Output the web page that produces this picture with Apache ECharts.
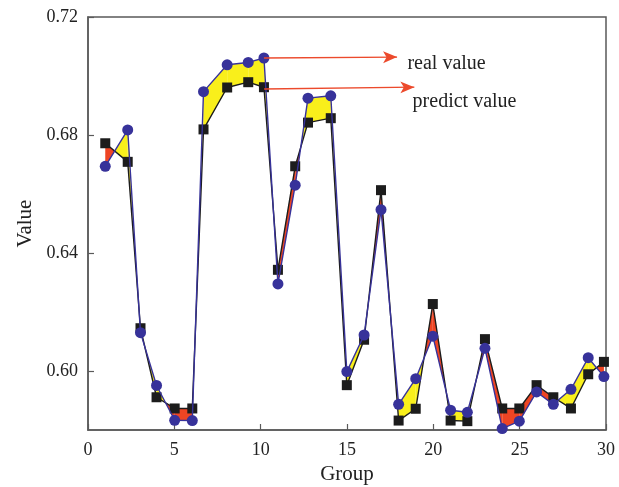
<!DOCTYPE html>
<html>
<head>
<meta charset="utf-8">
<script src="https://cdn.jsdelivr.net/npm/echarts@6/dist/echarts.min.js"></script>
<style>
  html, body { margin: 0; padding: 0; background: #fff; }
  #main { width: 619px; height: 487px; }
</style>
</head>
<body>
<div id="main"></div>
<script>
// group positions as drawn (a few are slightly off the integers)
var groups = [1, 2.3, 3.04, 3.97, 5.02, 6.04, 6.69, 8.06, 9.28, 10.19,
  11, 12, 12.74, 14.06, 14.99, 15.99, 16.97, 17.99, 18.98, 19.97,
  21, 21.97, 22.99, 23.99, 24.98, 25.98, 26.95, 27.97, 28.97, 29.88];

var realValue = [0.6694, 0.6817, 0.6130, 0.5951, 0.5833, 0.5832, 0.6947, 0.7038, 0.7046, 0.7061,
  0.6295, 0.6630, 0.6925, 0.6933, 0.5998, 0.6122, 0.6547, 0.5887, 0.5974, 0.6118,
  0.5867, 0.5860, 0.6077, 0.5805, 0.5830, 0.5929, 0.5887, 0.5938, 0.6045, 0.5981];

var predictValue = [0.6772, 0.6709, 0.6145, 0.5911, 0.5873, 0.5873, 0.6819, 0.6961, 0.6979, 0.6962,
  0.6343, 0.6694, 0.6842, 0.6857, 0.5952, 0.6106, 0.6613, 0.5832, 0.5872, 0.6227,
  0.5832, 0.5830, 0.6108, 0.5873, 0.5873, 0.5952, 0.5911, 0.5873, 0.5989, 0.6031];

var yTicks = [0.60, 0.64, 0.68, 0.72];

// arrow annotations (data coords)
var realArrow = [[10.19, 0.7061], [17.9, 0.7064]];
var predictArrow = [[10.2, 0.6956], [18.9, 0.6962]];

var serif = 'Liberation Serif';
var axisColor = '#5a5a5a';
var yellow = '#f9ef1b';
var red = '#ee4524';

var chart = echarts.init(document.getElementById('main'), null, { renderer: 'canvas' });

function pairs(ys) {
  return groups.map(function (x, i) { return [x, ys[i]]; });
}

// fill between two curves: yellow where real is above, red where predict is above
function renderBand(params, api) {
  var i = api.value(2);
  var x0 = groups[i], x1 = groups[i + 1];
  var r0 = realValue[i], r1 = realValue[i + 1];
  var p0 = predictValue[i], p1 = predictValue[i + 1];
  var d0 = r0 - p0, d1 = r1 - p1;
  var polys = [];
  function poly(pts, d) {
    return {
      type: 'polygon',
      shape: { points: pts.map(function (p) { return api.coord(p); }) },
      style: { fill: d >= 0 ? yellow : red, stroke: null }
    };
  }
  if (d0 * d1 >= 0) {
    polys.push(poly([[x0, r0], [x1, r1], [x1, p1], [x0, p0]], d0 + d1));
  } else {
    var t = d0 / (d0 - d1);
    var xi = x0 + t * (x1 - x0);
    var yi = r0 + t * (r1 - r0);
    polys.push(poly([[x0, r0], [xi, yi], [x0, p0]], d0));
    polys.push(poly([[xi, yi], [x1, r1], [x1, p1]], d1));
  }
  return { type: 'group', children: polys };
}

var bandData = groups.slice(0, -1).map(function (x, i) { return [x, realValue[i], i]; });

var option = {
  animation: false,
  backgroundColor: '#fff',
  grid: {
    left: 88, right: 13, top: 17, bottom: 57,
    outerBoundsMode: 'none',
    show: true, borderColor: axisColor, borderWidth: 1.5, backgroundColor: 'transparent'
  },
  xAxis: {
    type: 'value', min: 0, max: 30, interval: 5,
    name: 'Group', nameLocation: 'middle', nameGap: 34,
    nameTextStyle: { fontFamily: serif, fontSize: 21, color: '#222' },
    axisLine: { show: true, lineStyle: { color: axisColor, width: 1.5 } },
    axisTick: { show: true, inside: true, length: 6, lineStyle: { color: axisColor, width: 1.2 } },
    axisLabel: { fontFamily: serif, fontSize: 18, color: '#222', margin: 11 },
    splitLine: { show: false }
  },
  yAxis: {
    type: 'value', min: 0.58, max: 0.72,
    name: 'Value', nameLocation: 'middle', nameGap: 50, nameRotate: 90,
    nameTextStyle: { fontFamily: serif, fontSize: 21, color: '#222' },
    axisLine: { show: true, lineStyle: { color: axisColor, width: 1.5 } },
    axisTick: { show: true, inside: true, length: 6, customValues: yTicks, lineStyle: { color: axisColor, width: 1.2 } },
    axisLabel: {
      fontFamily: serif, fontSize: 18, color: '#222', margin: 10,
      customValues: yTicks,
      formatter: function (v) { return v.toFixed(2); }
    },
    splitLine: { show: false }
  },
  series: [
    {
      type: 'custom',
      renderItem: renderBand,
      encode: { x: 0, y: 1 },
      data: bandData,
      clip: true,
      z: 1
    },
    {
      name: 'predict value',
      type: 'line',
      data: pairs(predictValue),
      symbol: 'rect', symbolSize: 10,
      itemStyle: { color: '#1c1c1c' },
      lineStyle: { color: '#1c1c1c', width: 1.4 },
      z: 2,
      markLine: {
        silent: true,
        symbol: ['none', 'arrow'], symbolSize: [9, 14],
        lineStyle: { color: '#ec4a2c', width: 1.3, type: 'solid' },
        label: { show: false },
        data: [
          [{ coord: realArrow[0] }, { coord: realArrow[1] }],
          [{ coord: predictArrow[0] }, { coord: predictArrow[1] }]
        ]
      }
    },
    {
      name: 'real value',
      type: 'line',
      data: pairs(realValue),
      symbol: 'circle', symbolSize: 11,
      itemStyle: { color: '#37329a' },
      lineStyle: { color: '#37329a', width: 1.4 },
      z: 3,
      markPoint: {
        silent: true,
        symbol: 'circle', symbolSize: 0,
        label: { show: true, position: 'right', distance: 0, fontFamily: serif, fontSize: 20, color: '#222', formatter: '{b}' },
        data: [
          { name: 'real value', coord: [18.5, 0.7042] },
          { name: 'predict value', coord: [18.8, 0.6912] }
        ]
      }
    }
  ]
};

chart.setOption(option);
</script>
</body>
</html>
